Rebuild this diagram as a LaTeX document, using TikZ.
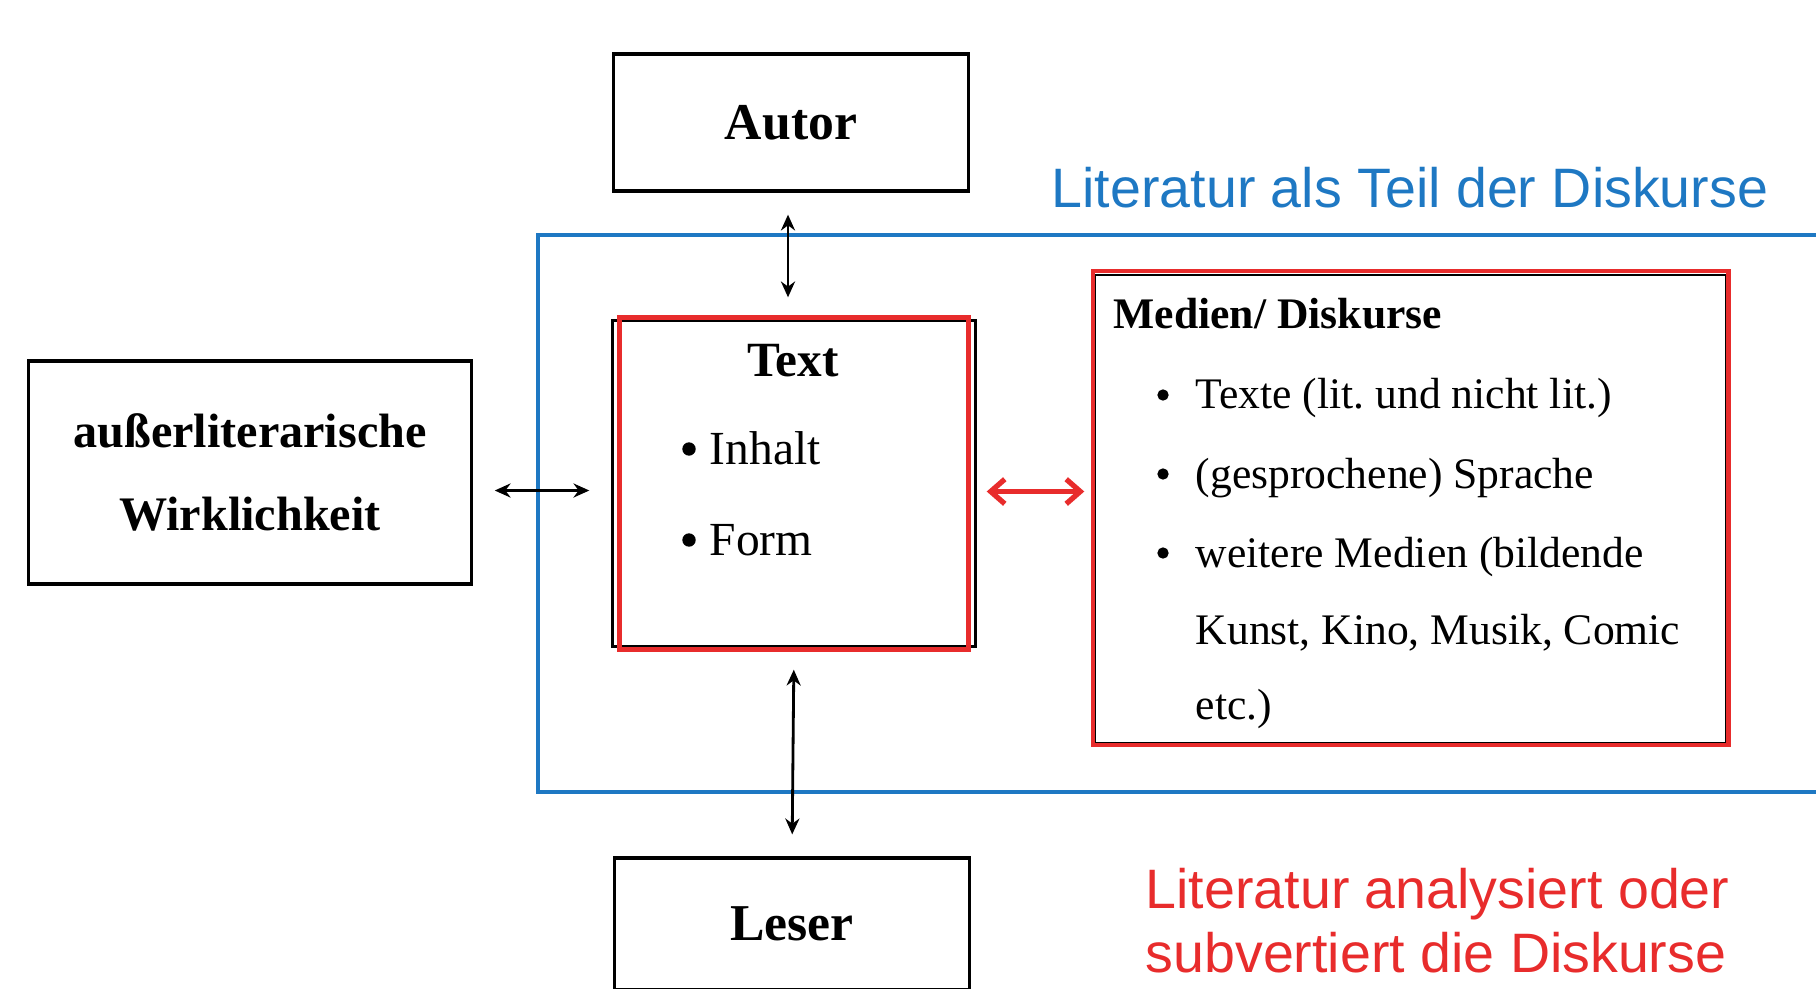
\documentclass[tikz,border=0pt]{standalone}
\usepackage{fontspec}
\setmainfont{Liberation Serif}
\newfontfamily\labelfont{Liberation Sans}
\usetikzlibrary{arrows.meta}
\definecolor{diskursblau}{RGB}{30,120,195}
\definecolor{diskursrot}{RGB}{232,44,44}
\tikzset{
  kasten/.style={draw=black,line width=0.9pt,inner sep=0pt,font=\bfseries\fontsize{14.7}{17}\selectfont},
  rahmen/.style={draw=diskursrot,line width=1.3pt,inner sep=0pt},
  link/.style={{Stealth[length=4.5pt,width=4pt]}-{Stealth[length=4.5pt,width=4pt]},line width=0.8pt,shorten <=0.22cm,shorten >=0.22cm},
  redlink/.style={{Straight Barb[length=4pt,width=7pt]}-{Straight Barb[length=4pt,width=7pt]},diskursrot,line width=1.5pt,shorten <=0.1cm,shorten >=0.1cm},
  listtext/.style={anchor=base west,inner sep=0pt,font=\fontsize{12.4}{14}\selectfont},
  schlagwort/.style={anchor=base west,inner sep=0pt,font=\labelfont\fontsize{15.8}{18}\selectfont}
}

\begin{document}
\begin{tikzpicture}[x=0.01cm,y=-0.01cm]
            \useasboundingbox (0,0) rectangle (1816,988);
            \clip (0,0) rectangle (1816,988);
            % Discourse frame
            \draw[diskursblau,line width=1pt](1830,235)--(538,235)--(538,792)--(1830,792);
            \node[schlagwort,diskursblau] (teil) at (1051,208) {Literatur als Teil der Diskurse};
            \node[schlagwort,diskursrot] (analyse) at (1145,908) {Literatur analysiert oder};
            \node[schlagwort,diskursrot] (subversion) at (1145,972) {subvertiert die Diskurse};
            % Boxes
            \node[kasten,minimum width=3.54cm,minimum height=1.37cm] (autor) at (791,122.5) {Autor};
            \node[kasten,minimum width=3.54cm,minimum height=1.32cm] (leser) at (792,924) {Leser};
            \node[kasten,minimum width=4.42cm,minimum height=2.23cm,align=center,font=\bfseries\fontsize{13.7}{23.6}\selectfont] (wirklichkeit) at (250,472.5) {außerliterarische\\Wirklichkeit};
            \node[kasten,minimum width=3.62cm,minimum height=3.25cm] (textbox) at (794,483.5) {};
            \node[rahmen,minimum width=3.49cm,minimum height=3.32cm] (textrahmen) at (textbox) {};
            \node[kasten,line width=0.6pt,minimum width=6.30cm,minimum height=4.68cm] (medien) at (1410.5,509) {};
            \node[rahmen,minimum width=6.35cm,minimum height=4.74cm] (medienrahmen) at (1410.5,508) {};
            % Text contents
            \node[anchor=base,inner sep=0pt,font=\bfseries\fontsize{14}{16}\selectfont] (texttitel) at (793,376) {Text};
            \filldraw[black](689,449)circle(1.7pt);
            \node[listtext,font=\fontsize{13.5}{16}\selectfont] (inhalt) at (709,464) {Inhalt};
            \filldraw[black](689,540)circle(1.7pt);
            \node[listtext,font=\fontsize{13.5}{16}\selectfont] (form) at (709,555) {Form};
            % Media contents
            \node[listtext,font=\bfseries\fontsize{12.4}{14}\selectfont] (medientitel) at (1113,328) {Medien/ Diskurse};
            \filldraw[black](1163,395)circle(1.4pt);
            \node[listtext] (texte) at (1195,408) {Texte (lit.\ und nicht lit.)};
            \filldraw[black](1163,474)circle(1.4pt);
            \node[listtext] (sprache) at (1195,488) {(gesprochene) Sprache};
            \filldraw[black](1163,553)circle(1.4pt);
            \node[listtext] (weitere) at (1195,567) {weitere Medien (bildende};
            \node[listtext] (kunst) at (1195,644) {Kunst, Kino, Musik, Comic};
            \node[listtext] (etc) at (1195,719) {etc.)};
            % Connectors
            \coordinate (oben) at ([xshift=-0.06cm]textbox.north);
            \coordinate (links) at ([yshift=-0.07cm]textbox.west);
            \coordinate (rechts) at ([yshift=-0.08cm]textbox.east);
            \draw[link](autor.south-|oben)--(oben);
            \draw[link](textbox.south)--(leser.north);
            \draw[link](wirklichkeit.east|-links)--(links);
            \draw[redlink](rechts)--(medien.west|-rechts);
\end{tikzpicture}
\end{document}
